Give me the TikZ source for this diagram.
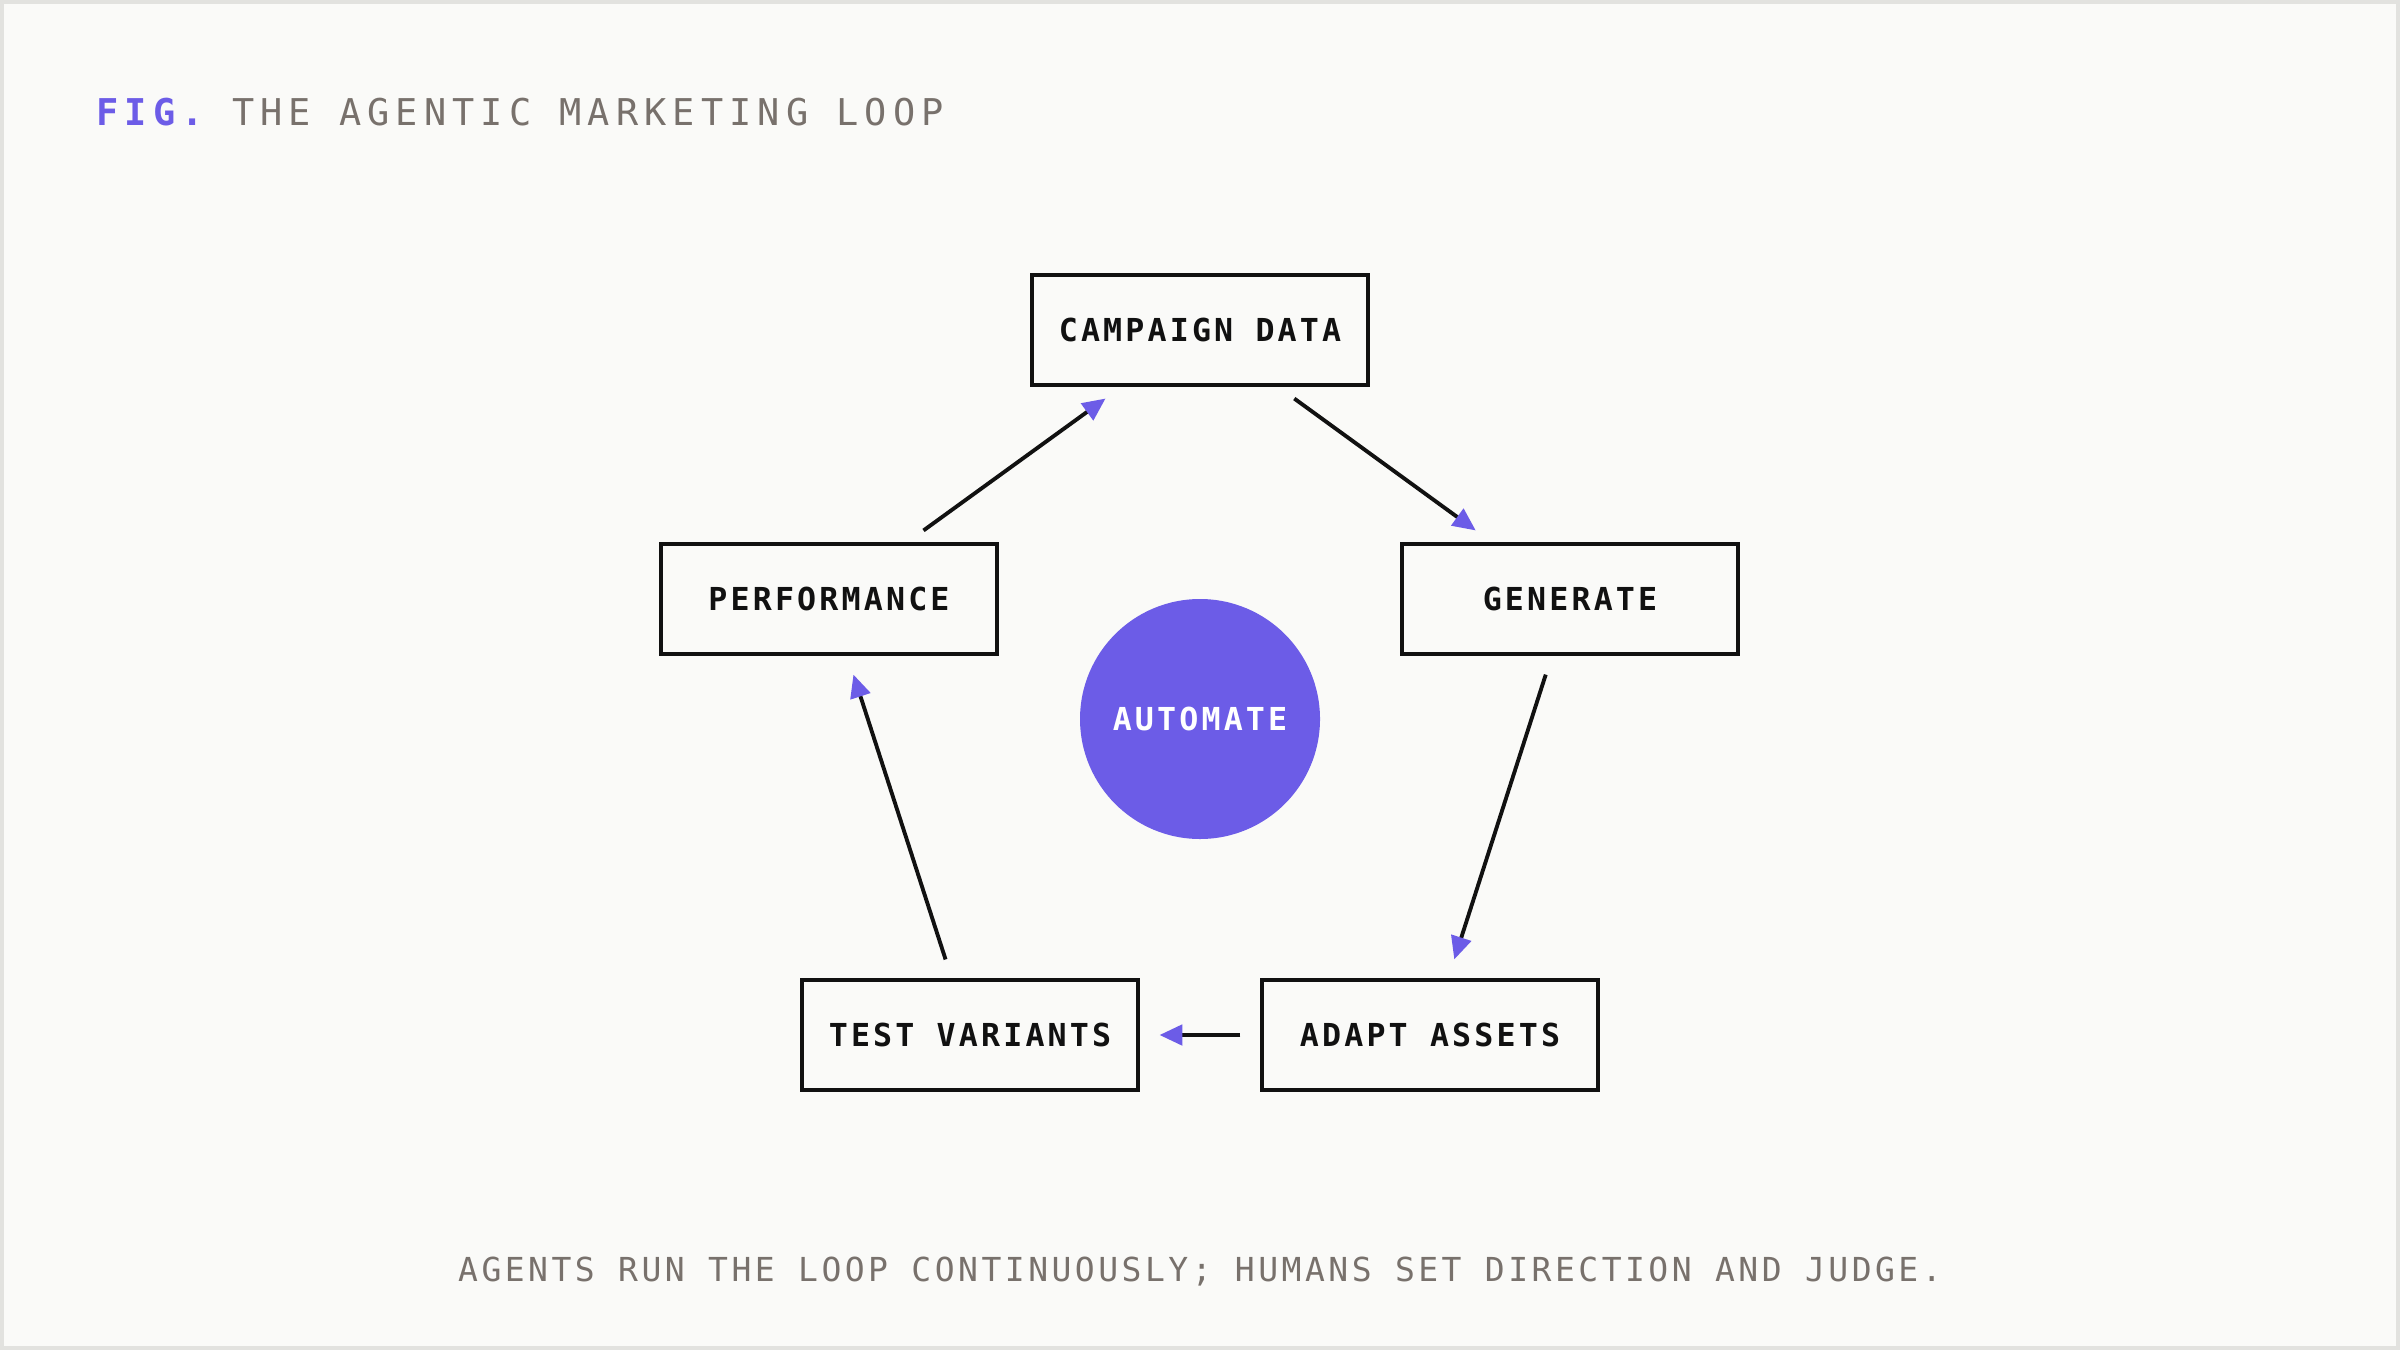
\documentclass[tikz,border=0pt]{standalone}
\usepackage{fontspec}
\usepackage{xcolor}
\usepackage{tikz}
\usetikzlibrary{arrows.meta}
\definecolor{loopbg}{HTML}{FAFAF8}
\definecolor{loopframe}{HTML}{E2E2DF}
\definecolor{looppurple}{HTML}{6C5CE7}
\definecolor{loopgray}{HTML}{78716C}
\definecolor{loopink}{HTML}{111111}
\newfontfamily\titlefont[LetterSpace=16.5]{DejaVu Sans Mono}
\newfontfamily\boxfont[LetterSpace=10]{DejaVu Sans Mono}
\newfontfamily\notefont[LetterSpace=10.5]{DejaVu Sans Mono}

\begin{document}
\begin{tikzpicture}[
      box/.style={rectangle,draw=loopink,line width=1.25pt,fill=loopbg,
                  minimum width=3.36cm,minimum height=1.10cm,
                  align=center,text=loopink,
                  font=\boxfont\bfseries\fontsize{9}{11}\selectfont},
      hub/.style={circle,fill=looppurple,minimum size=2.4cm,text=white,
                  font=\boxfont\bfseries\fontsize{9}{11}\selectfont},
      arr/.style={-{Triangle[length=6.5pt,width=5.8pt,color=looppurple]},
                  line width=1.1pt,draw=loopink,
                  shorten >=5.5pt,shorten <=5.5pt}]
    % page
    \draw[loopframe,line width=1.1pt,fill=loopbg] (0.02,0.02) rectangle (23.98,13.48);
    \useasboundingbox (0,0) rectangle (24,13.5);

    \node[anchor=base west,inner sep=0pt,font=\titlefont\fontsize{10.5}{12}\selectfont] (title) at (0.96,12.24)
      {\textcolor{looppurple}{\bfseries FIG.} \textcolor{loopgray}{THE AGENTIC MARKETING LOOP}};

    % the loop
    \node[box] (campaign) at (12.00,10.20) {CAMPAIGN DATA};
    \node[box] (generate) at (15.70,7.51) {GENERATE};
    \node[box] (adapt)    at (14.30,3.15) {ADAPT ASSETS};
    \node[box] (test)     at (9.70,3.15)  {TEST VARIANTS};
    \node[box] (perf)     at (8.29,7.51)  {PERFORMANCE};

    \node[hub] (automate) at (12.00,6.31) {AUTOMATE};

    \draw[arr] (campaign) -- (generate);
    \draw[arr] (generate) -- (adapt);
    \draw[arr] (adapt) -- (test);
    \draw[arr] (test) -- (perf);
    \draw[arr] (perf) -- (campaign);

    \node[anchor=base,inner sep=0pt,text=loopgray,font=\notefont\fontsize{9.4}{11}\selectfont] (note) at (12.00,0.69)
      {AGENTS RUN THE LOOP CONTINUOUSLY; HUMANS SET DIRECTION AND JUDGE.};
  \end{tikzpicture}
\end{document}
